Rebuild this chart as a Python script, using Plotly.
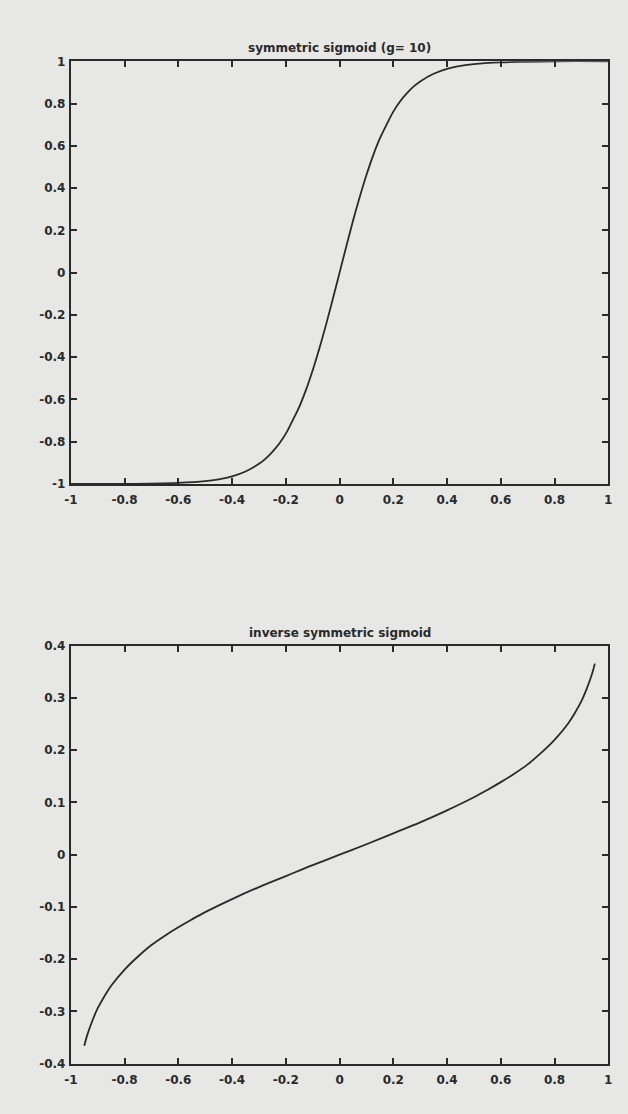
import plotly.graph_objects as go

# ---- data ----
sig_x = [-1.0, -0.8, -0.6, -0.5, -0.45, -0.4, -0.35, -0.3, -0.275, -0.25, -0.225, -0.2, -0.175,
         -0.15, -0.125, -0.1, -0.075, -0.05, -0.025, 0.0, 0.025, 0.05, 0.075, 0.1, 0.125, 0.15,
         0.175, 0.2, 0.225, 0.25, 0.275, 0.3, 0.35, 0.4, 0.45, 0.5, 0.6, 0.8, 1.0]
sig_y = [-1.0, -1.0, -0.995, -0.987, -0.978, -0.964, -0.941, -0.905, -0.88, -0.848, -0.81, -0.762,
         -0.70, -0.635, -0.555, -0.462, -0.358, -0.245, -0.124, 0.0, 0.124, 0.245, 0.358, 0.462,
         0.555, 0.635, 0.70, 0.762, 0.81, 0.848, 0.88, 0.905, 0.941, 0.964, 0.978, 0.987, 0.995,
         1.0, 1.0]

inv_x = [-0.95, -0.94, -0.92, -0.90, -0.875, -0.85, -0.80, -0.75, -0.70, -0.65, -0.60, -0.55,
         -0.50, -0.40, -0.30, -0.20, -0.10, 0.0, 0.10, 0.20, 0.30, 0.40, 0.50, 0.55, 0.60, 0.65,
         0.70, 0.75, 0.80, 0.85, 0.875, 0.90, 0.92, 0.94, 0.95]
inv_y = [-0.366, -0.347, -0.318, -0.294, -0.271, -0.251, -0.220, -0.195, -0.173, -0.155, -0.139,
         -0.124, -0.110, -0.085, -0.062, -0.041, -0.020, 0.0, 0.020, 0.041, 0.062, 0.085, 0.110,
         0.124, 0.139, 0.155, 0.173, 0.195, 0.220, 0.251, 0.271, 0.294, 0.318, 0.347, 0.366]

x_ticks = [-1, -0.8, -0.6, -0.4, -0.2, 0, 0.2, 0.4, 0.6, 0.8, 1]
x_tick_text = ["-1", "-0.8", "-0.6", "-0.4", "-0.2", "0", "0.2", "0.4", "0.6", "0.8", "1"]
y1_ticks = [-1, -0.8, -0.6, -0.4, -0.2, 0, 0.2, 0.4, 0.6, 0.8, 1]
y1_tick_text = ["-1", "-0.8", "-0.6", "-0.4", "-0.2", "0", "0.2", "0.4", "0.6", "0.8", "1"]
y2_ticks = [-0.4, -0.3, -0.2, -0.1, 0, 0.1, 0.2, 0.3, 0.4]
y2_tick_text = ["-0.4", "-0.3", "-0.2", "-0.1", "0", "0.1", "0.2", "0.3", "0.4"]

title_top = "symmetric sigmoid (g= 10)"
title_bottom = "inverse symmetric sigmoid"

INK = "#2a2a2a"
BG = "#e7e7e5"
FONT = "DejaVu Sans"

fig = go.Figure()
fig.add_trace(go.Scatter(x=sig_x, y=sig_y, mode="lines", xaxis="x", yaxis="y",
                         line=dict(color=INK, width=1.8, shape="spline", smoothing=1.0),
                         showlegend=False, hoverinfo="skip"))
fig.add_trace(go.Scatter(x=inv_x, y=inv_y, mode="lines", xaxis="x2", yaxis="y2",
                         line=dict(color=INK, width=1.8, shape="spline", smoothing=1.0),
                         showlegend=False, hoverinfo="skip"))

W, H = 628, 1114
xdom = [65 / W, 612 / W]
y1dom = [1 - 483 / H, 1 - 55 / H]
y2dom = [1 - 1070 / H, 1 - 647 / H]

tickfont = dict(family=FONT, size=12, color=INK, weight="bold")
axis_common = dict(showline=True, linecolor=INK, linewidth=2, mirror="ticks",
                   ticks="inside", ticklen=6, tickwidth=1.6, tickcolor=INK,
                   showgrid=False, zeroline=False, tickfont=tickfont)

fig.update_layout(
    width=W, height=H,
    margin=dict(l=0, r=0, t=0, b=0),
    paper_bgcolor=BG, plot_bgcolor=BG,
    xaxis=dict(domain=xdom, anchor="y", range=[-1, 1], tickvals=x_ticks, ticktext=x_tick_text,
               ticklabelstandoff=4, **axis_common),
    yaxis=dict(domain=y1dom, anchor="x", range=[-1, 1], tickvals=y1_ticks, ticktext=y1_tick_text,
               ticklabelstandoff=1, **axis_common),
    xaxis2=dict(domain=xdom, anchor="y2", range=[-1, 1], tickvals=x_ticks, ticktext=x_tick_text,
                ticklabelstandoff=4, **axis_common),
    yaxis2=dict(domain=y2dom, anchor="x2", range=[-0.4, 0.4], tickvals=y2_ticks,
                ticktext=y2_tick_text, ticklabelstandoff=1, **axis_common),
    annotations=[
        dict(text=title_top, xref="paper", yref="paper", x=(xdom[0] + xdom[1]) / 2,
             y=y1dom[1], yanchor="bottom", yshift=4, showarrow=False,
             font=dict(family=FONT, size=12, color=INK, weight="bold")),
        dict(text=title_bottom, xref="paper", yref="paper", x=(xdom[0] + xdom[1]) / 2,
             y=y2dom[1], yanchor="bottom", yshift=4, showarrow=False,
             font=dict(family=FONT, size=12, color=INK, weight="bold")),
    ],
)

fig.write_html("out.html")
